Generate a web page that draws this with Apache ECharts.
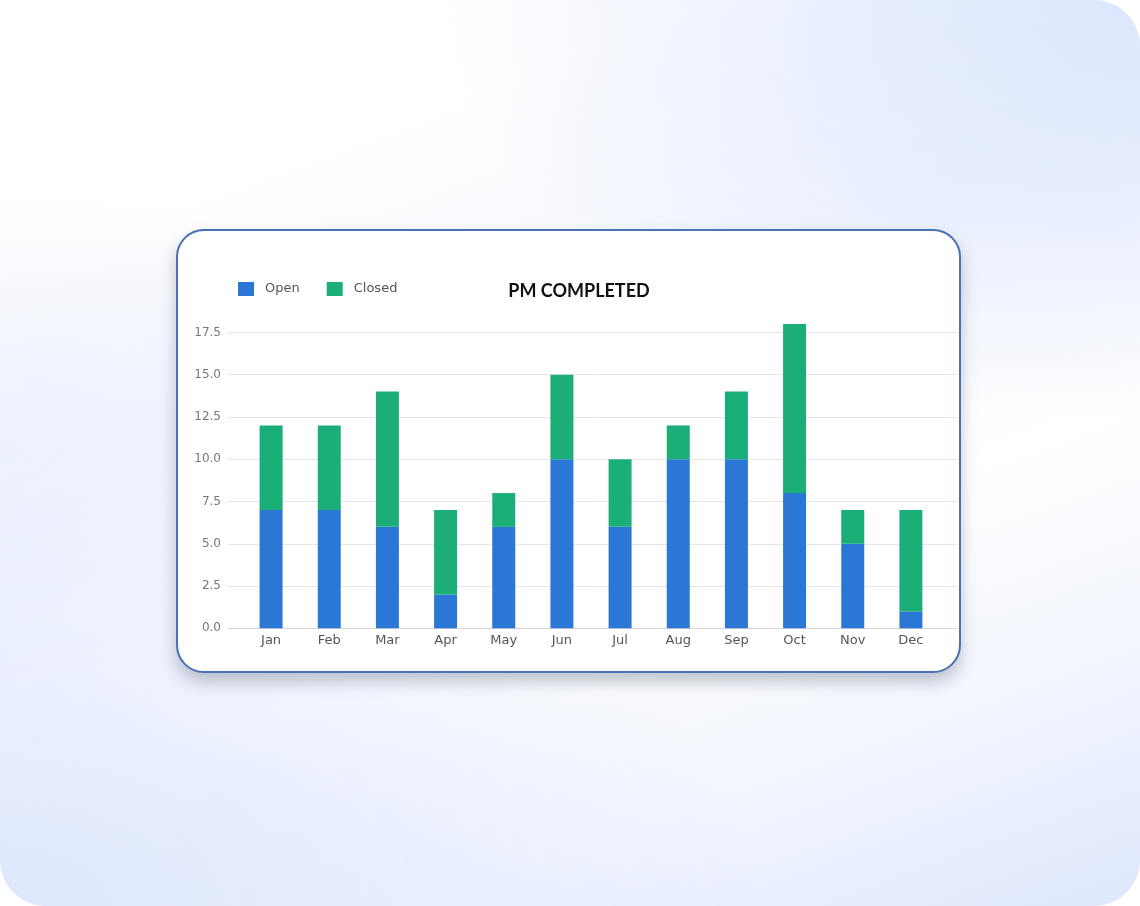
<!DOCTYPE html>
<html>
<head>
<meta charset="utf-8">
<script src="https://cdn.jsdelivr.net/npm/echarts@6/dist/echarts.min.js"></script>
<style>
html,body{margin:0;padding:0;width:1140px;height:906px;background:#ffffff;overflow:hidden;}
#bg{position:absolute;left:0;top:0;width:1140px;height:906px;border-radius:46px;
background:linear-gradient(160deg,#ffffff 0%,#ffffff 20%,#f4f7fe 40%,#ffffff 62%,#f2f6fe 80%,#dfe7fd 100%);}
#bg2{position:absolute;left:0;top:0;width:1140px;height:906px;border-radius:46px;
background:radial-gradient(ellipse 700px 420px at 1140px 0px,#dce6fd 0%,rgba(220,230,253,0.6) 45%,rgba(255,255,255,0) 100%),
radial-gradient(ellipse 760px 430px at 0px 906px,#dde6fd 0%,rgba(221,230,253,0.6) 45%,rgba(255,255,255,0) 100%),
radial-gradient(ellipse 500px 260px at 0px 450px,rgba(232,238,253,0.8) 0%,rgba(255,255,255,0) 100%);}
#card{position:absolute;left:176px;top:229px;width:781px;height:440px;background:#fff;border:2.5px solid #4a72b5;border-radius:28px;box-shadow:0 9px 16px rgba(60,70,90,0.3);}
#chart{position:absolute;left:0;top:0;width:1140px;height:906px;}
</style>
</head>
<body>
<div id="bg"></div>
<div id="bg2"></div>
<div id="card"></div>
<div id="chart"></div>
<script>
const categories = ['Jan','Feb','Mar','Apr','May','Jun','Jul','Aug','Sep','Oct','Nov','Dec'];
const openValues = [7, 7, 6, 2, 6, 10, 6, 10, 10, 8, 5, 1];
const closedValues = [5, 5, 8, 5, 2, 5, 4, 2, 4, 10, 2, 6];
const yTicks = [0, 2.5, 5, 7.5, 10, 12.5, 15, 17.5];

const chart = echarts.init(document.getElementById('chart'), null, {renderer: 'canvas'});
const font = 'DejaVu Sans';
const gridTop = 324, gridBottom = 906 - 628.3;
const splitColors = yTicks.map(() => '#e6e6e6').concat(['rgba(0,0,0,0)']);

chart.setOption({
  backgroundColor: 'transparent',
  animation: false,
  title: {
    text: 'PM COMPLETED',
    left: 579, top: 282, textAlign: 'center', padding: 0,
    textStyle: {fontFamily: 'Lato', fontWeight: 'bold', fontSize: 18, color: '#111'}
  },
  legend: {
    left: 238, top: 282, padding: 0,
    itemWidth: 16, itemHeight: 14, itemGap: 27,
    icon: 'rect',
    textStyle: {fontFamily: font, fontSize: 13, color: '#555', padding: [0, 0, 0, 6]},
    data: ['Open', 'Closed']
  },
  grid: [
    {left: 242, right: 1140 - 940, top: gridTop, bottom: gridBottom},
    {left: 228, right: 1140 - 957, top: gridTop, bottom: gridBottom}
  ],
  xAxis: [
    {
      type: 'category', gridIndex: 0, data: categories,
      axisLine: {show: false}, axisTick: {show: false},
      axisLabel: {fontFamily: font, fontSize: 13, color: '#555', margin: 6}
    },
    {
      type: 'value', gridIndex: 1, min: 0, max: 1, show: true,
      axisLabel: {show: false}, axisTick: {show: false}, splitLine: {show: false},
      axisLine: {show: true, lineStyle: {color: '#d6d6d6', width: 1}}
    }
  ],
  yAxis: [
    {
      type: 'value', gridIndex: 0, min: 0, max: 18, interval: 2.5,
      show: false
    },
    {
      type: 'value', gridIndex: 1, min: 0, max: 18, interval: 2.5,
      axisLine: {show: false}, axisTick: {show: false},
      axisLabel: {fontFamily: font, fontSize: 12, color: '#777', margin: 7, showMaxLabel: false,
        formatter: v => yTicks.indexOf(v) >= 0 ? v.toFixed(1) : ''},
      splitLine: {show: true, lineStyle: {color: splitColors, width: 1}}
    }
  ],
  series: [
    {
      name: 'Open', type: 'bar', stack: 'pm', xAxisIndex: 0, yAxisIndex: 0,
      data: openValues, barWidth: 23, itemStyle: {color: '#2a77d5'}
    },
    {
      name: 'Closed', type: 'bar', stack: 'pm', xAxisIndex: 0, yAxisIndex: 0,
      data: closedValues, barWidth: 23, itemStyle: {color: '#1bae78'}
    }
  ]
});
</script>
</body>
</html>
